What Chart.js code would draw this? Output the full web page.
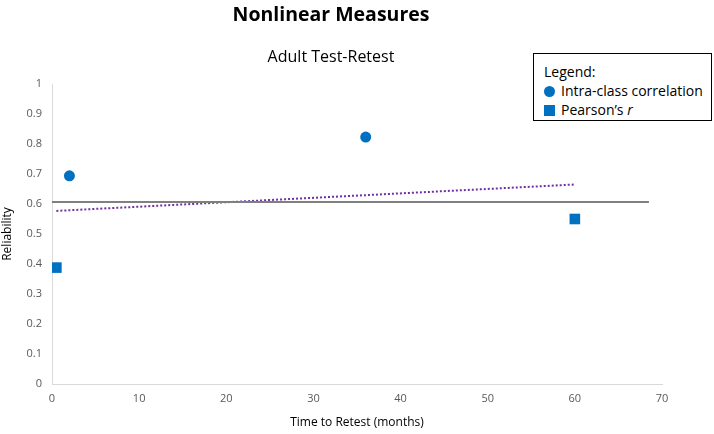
<!DOCTYPE html>
<html>
<head>
<meta charset="utf-8">
<script src="https://cdn.jsdelivr.net/npm/chart.js@4/dist/chart.umd.min.js"></script>
<style>
  body { margin: 0; background: #fff; }
  #wrap { position: relative; width: 714px; height: 434px; }
  #legendBox {
    position: absolute; left: 533px; top: 53px; width: 179px; height: 68px;
    border: 1.5px solid #000; background: #fff;
    font-family: "Open Sans", sans-serif; font-size: 14px; color: #000;
    padding: 8px 0 0 10px; box-sizing: border-box; line-height: 19px;
  }
  .mk { display: inline-block; width: 11px; height: 11px; background: #0070C0; margin-right: 6px; vertical-align: -1px; }
  .mk.c { border-radius: 50%; }
</style>
</head>
<body>
<div id="wrap">
  <canvas id="chart" width="714" height="434"></canvas>
  <div id="legendBox">
    <div>Legend:</div>
    <div><span class="mk c"></span>Intra-class correlation</div>
    <div><span class="mk"></span>Pearson’s <i>r</i></div>
  </div>
</div>
<script>
// values
const iccX = [2, 36]
const iccY = [0.694, 0.823]
const pearsonX = [0.5, 60]
const pearsonY = [0.388, 0.55]
const meanLineX = [0, 68.5]
const meanLineY = [0.607, 0.607]
const trendX = [0.5, 60]
const trendY = [0.577, 0.665]

function pts(xs, ys){
  return xs.map((x, i) => ({ x: x, y: ys[i] }))
}

const blue = '#0070C0'
const tickFont = { family: 'Open Sans', size: 11 }

const cfg = {
  type: 'scatter',
  data: {
    datasets: [
      { label: 'Intra-class correlation', data: pts(iccX, iccY), pointStyle: 'circle', pointRadius: 5.5,
        backgroundColor: blue, borderColor: blue, borderWidth: 0 },
      { label: "Pearson's r", data: pts(pearsonX, pearsonY), pointStyle: 'rect', pointRadius: 7.5,
        backgroundColor: blue, borderColor: blue, borderWidth: 0 },
      { label: 'mean', data: pts(meanLineX, meanLineY), showLine: true, pointRadius: 0,
        borderColor: '#808080', borderWidth: 2 },
      { label: 'trend', data: pts(trendX, trendY), showLine: true, pointRadius: 0,
        borderColor: '#7030A0', borderWidth: 2, borderDash: [2, 2] }
    ]
  },
  options: {
    responsive: false,
    animation: false,
    layout: { padding: { left: 0, right: 52, top: 0, bottom: 0 } },
    plugins: {
      legend: { display: false },
      tooltip: { enabled: false },
      title: {
        display: true, text: 'Nonlinear Measures', color: '#000',
        font: { family: 'Open Sans', size: 19.5, weight: 'bold' },
        padding: { top: 4, bottom: 20 }
      },
      subtitle: {
        display: true, text: 'Adult Test-Retest', color: '#000',
        font: { family: 'Open Sans', size: 16 },
        padding: { top: 0, bottom: 17.4 }
      }
    },
    scales: {
      x: {
        type: 'linear', min: 0, max: 70,
        ticks: { stepSize: 10, color: '#595959', font: tickFont, padding: 8 },
        grid: { display: false, drawTicks: false },
        border: { color: '#d9d9d9', width: 1 },
        title: { display: true, text: 'Time to Retest (months)', color: '#000',
          font: { family: 'Open Sans', size: 12 }, padding: { top: 10 } },
        afterFit: s => { s.height = 50 }
      },
      y: {
        min: 0, max: 1,
        ticks: { stepSize: 0.1, color: '#595959', font: tickFont, padding: 10,
          callback: v => +v.toFixed(1) },
        grid: { display: false, drawTicks: false },
        border: { color: '#d9d9d9', width: 1 },
        title: { display: true, text: 'Reliability', color: '#000',
          font: { family: 'Open Sans', size: 12 }, padding: 0 },
        afterFit: s => { s.width = 52 }
      }
    }
  }
}

const chart = new Chart(document.getElementById('chart'), cfg)
</script>
</body>
</html>
